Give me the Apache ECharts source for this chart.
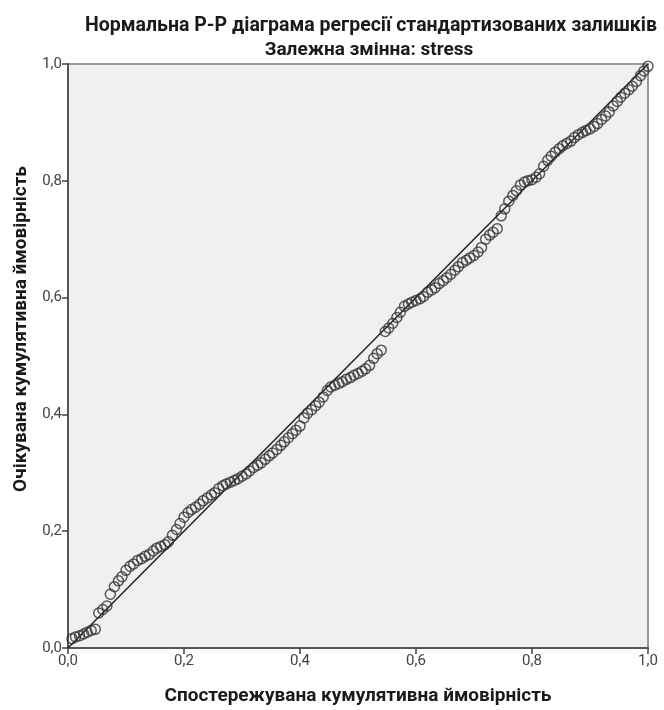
<!DOCTYPE html>
<html>
<head>
<meta charset="utf-8">
<script src="https://cdn.jsdelivr.net/npm/echarts@6/dist/echarts.min.js"></script>
<style>
html,body{margin:0;padding:0;background:#fff;}
#chart{width:664px;height:710px;}
</style>
</head>
<body>
<div id="chart"></div>
<script>
const titleText = "Нормальна P-P діаграма регресії стандартизованих залишків";
const subtitleText = "Залежна змінна: stress";
const xAxisName = "Спостережувана кумулятивна ймовірність";
const yAxisName = "Очікувана кумулятивна ймовірність";

const observedCumProb = [
0.007,0.013,0.020,0.027,0.033,0.040,0.047,0.053,0.060,0.067,
0.073,0.080,0.087,0.093,0.100,0.107,0.113,0.120,0.127,0.133,
0.140,0.147,0.153,0.160,0.167,0.173,0.180,0.187,0.193,0.200,
0.207,0.213,0.220,0.227,0.233,0.240,0.247,0.253,0.260,0.267,
0.273,0.280,0.287,0.293,0.300,0.307,0.313,0.320,0.327,0.333,
0.340,0.347,0.353,0.360,0.367,0.373,0.380,0.387,0.393,0.400,
0.407,0.413,0.420,0.427,0.433,0.440,0.447,0.453,0.460,0.467,
0.473,0.480,0.487,0.493,0.500,0.507,0.513,0.520,0.527,0.533,
0.540,0.547,0.553,0.560,0.567,0.573,0.580,0.587,0.593,0.600,
0.607,0.613,0.620,0.627,0.633,0.640,0.647,0.653,0.660,0.667,
0.673,0.680,0.687,0.693,0.700,0.707,0.713,0.720,0.727,0.733,
0.740,0.747,0.753,0.760,0.767,0.773,0.780,0.787,0.793,0.800,
0.807,0.813,0.820,0.827,0.833,0.840,0.847,0.853,0.860,0.867,
0.873,0.880,0.887,0.893,0.900,0.907,0.913,0.920,0.927,0.933,
0.940,0.947,0.953,0.960,0.967,0.973,0.980,0.987,0.993,1.000];

const expectedCumProb = [
0.016,0.019,0.021,0.024,0.027,0.030,0.032,0.060,0.066,0.072,
0.092,0.105,0.115,0.122,0.133,0.140,0.144,0.150,0.153,0.157,
0.160,0.166,0.171,0.174,0.177,0.182,0.193,0.203,0.213,0.224,
0.232,0.237,0.241,0.246,0.252,0.257,0.262,0.266,0.273,0.278,
0.281,0.284,0.287,0.290,0.294,0.298,0.303,0.309,0.313,0.317,
0.323,0.329,0.334,0.340,0.347,0.353,0.360,0.367,0.373,0.380,
0.394,0.402,0.408,0.415,0.421,0.430,0.441,0.447,0.450,0.453,
0.456,0.460,0.463,0.467,0.470,0.474,0.478,0.484,0.496,0.504,
0.510,0.542,0.548,0.556,0.566,0.575,0.585,0.589,0.592,0.595,
0.598,0.602,0.609,0.613,0.617,0.624,0.629,0.634,0.640,0.647,
0.653,0.660,0.664,0.668,0.672,0.678,0.686,0.700,0.707,0.712,
0.718,0.740,0.752,0.765,0.775,0.783,0.793,0.798,0.800,0.802,
0.806,0.812,0.825,0.835,0.842,0.849,0.855,0.860,0.864,0.868,
0.874,0.879,0.883,0.886,0.889,0.893,0.898,0.905,0.911,0.918,
0.928,0.936,0.943,0.950,0.956,0.962,0.970,0.980,0.988,0.996];

const referenceLine = [[0,0],[1,1]];

const points = observedCumProb.map((x,i)=>[x, expectedCumProb[i]]);
const fmt = v => v.toFixed(1).replace('.', ',');
const FONT = 'Roboto';

const chart = echarts.init(document.getElementById('chart'));
chart.setOption({
  animation:false,
  backgroundColor:'#fff',
  title:[
    {text:titleText, left:366, top:11, textAlign:'center',
     textStyle:{fontFamily:FONT, fontWeight:'bold', fontSize:19.5, color:'#1a1a1a'}},
    {text:subtitleText, left:364, top:36, textAlign:'center',
     textStyle:{fontFamily:FONT, fontWeight:'bold', fontSize:19, color:'#1a1a1a'}}
  ],
  grid:{left:68, right:16, top:64, bottom:62, outerBoundsMode:'none', containLabel:false,
    show:true, backgroundColor:'#f0f0f0', borderColor:'#9a9a9a', borderWidth:2},
  xAxis:{type:'value', min:0, max:1, interval:0.2,
    name:xAxisName, nameLocation:'middle', nameGap:39,
    nameTextStyle:{fontFamily:FONT, fontWeight:'bold', fontSize:19, color:'#1a1a1a'},
    axisLine:{show:true, onZero:false, lineStyle:{color:'#555', width:2}},
    axisTick:{show:true, length:6, lineStyle:{color:'#444', width:1.5}},
    axisLabel:{formatter:fmt, fontFamily:FONT, fontSize:15, color:'#444', margin:6},
    splitLine:{show:false}},
  yAxis:{type:'value', min:0, max:1, interval:0.2,
    name:yAxisName, nameLocation:'middle', nameGap:37, nameRotate:90,
    nameTextStyle:{fontFamily:FONT, fontWeight:'bold', fontSize:19, color:'#1a1a1a', padding:[0,0,0,54]},
    axisLine:{show:true, onZero:false, lineStyle:{color:'#555', width:2}},
    axisTick:{show:true, length:6, lineStyle:{color:'#444', width:1.5}},
    axisLabel:{formatter:fmt, fontFamily:FONT, fontSize:15, color:'#444', margin:6},
    splitLine:{show:false}},
  series:[
    {type:'line', data:referenceLine, symbol:'none', silent:true,
     lineStyle:{color:'#222', width:1.5}, z:3},
    {type:'scatter', data:points, symbol:'circle', symbolSize:10,
     itemStyle:{color:'rgba(0,0,0,0)', borderColor:'#333', borderWidth:1.5}, z:4}
  ]
});
</script>
</body>
</html>
